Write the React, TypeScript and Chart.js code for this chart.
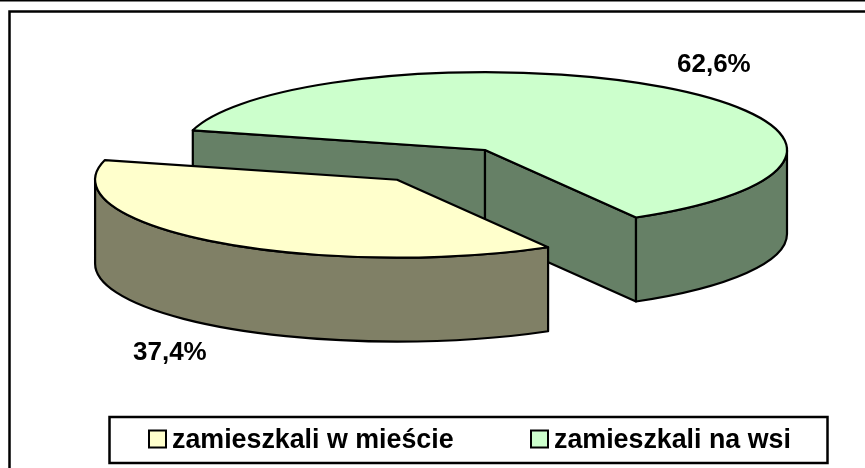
import React, { useEffect, useRef } from "react";
import { Chart, registerables } from "chart.js";

Chart.register(...registerables);

const categories = ["zamieszkali w mieście", "zamieszkali na wsi"];
const shares = [37.4, 62.6];
const shareLabels = ["37,4%", "62,6%"];
const faceColors = ["#FFFFCC", "#CCFFCC"];
const wallColors = ["#808066", "#668066"];
const explode = [145, 0];

const SQUASH = 0.258;
const CENTER_Y = 150;
const DEPTH = 84;
const RADIUS = 302;
const ROTATION = 150;
const FONT = 'bold 26px "Liberation Sans", Arial, sans-serif';
const LEGEND_FONT = 'bold 26.8px "Liberation Sans", Arial, sans-serif';
const labelPos = [
  [133, 360],
  [677, 72],
];
const legendBoxX = [149, 531];

const pie3d = {
  id: "pie3d",
  beforeDatasetsDraw(chart: any) {
    const { ctx } = chart;
    const arcs = chart.getDatasetMeta(0).data;
    const y0 = arcs[0].y;
    const project = () => {
      ctx.translate(0, CENTER_Y);
      ctx.scale(1, SQUASH);
      ctx.translate(0, -y0);
    };
    const sy = (v: number) => CENTER_Y + (v - y0) * SQUASH;
    const geom = (arc: any, i: number) => {
      const mid = (arc.startAngle + arc.endAngle) / 2;
      return {
        startAngle: arc.startAngle,
        endAngle: arc.endAngle,
        outerRadius: arc.outerRadius,
        dx: Math.cos(mid) * explode[i],
        dy: Math.sin(mid) * explode[i],
        cx: arc.x + Math.cos(mid) * explode[i],
        cy: arc.y + Math.sin(mid) * explode[i],
      };
    };

    ctx.save();
    ctx.lineWidth = 2.2;
    ctx.lineJoin = "round";
    ctx.strokeStyle = "#000";

    // walls, back slice first
    [1, 0].forEach((i) => {
      const g = geom(arcs[i], i);
      ctx.fillStyle = wallColors[i];
      const wall = (a: number) => {
        const rx = g.cx + Math.cos(a) * g.outerRadius;
        const ry = g.cy + Math.sin(a) * g.outerRadius;
        ctx.beginPath();
        ctx.moveTo(g.cx, sy(g.cy));
        ctx.lineTo(rx, sy(ry));
        ctx.lineTo(rx, sy(ry) + DEPTH);
        ctx.lineTo(g.cx, sy(g.cy) + DEPTH);
        ctx.closePath();
        ctx.fill();
        ctx.stroke();
      };
      if (-Math.cos(g.startAngle) > 0) wall(g.startAngle);
      if (Math.cos(g.endAngle) > 0) wall(g.endAngle);
      const twoPi = Math.PI * 2;
      const k = Math.floor(g.startAngle / twoPi);
      for (const base of [k * twoPi, (k + 1) * twoPi]) {
        const a0 = Math.max(g.startAngle, base);
        const a1 = Math.min(g.endAngle, base + Math.PI);
        if (a1 <= a0) continue;
        ctx.save();
        project();
        ctx.beginPath();
        ctx.arc(g.cx, g.cy, g.outerRadius, a0, a1);
        ctx.translate(0, DEPTH / SQUASH);
        ctx.arc(g.cx, g.cy, g.outerRadius, a1, a0, true);
        ctx.closePath();
        ctx.restore();
        ctx.fill();
        ctx.stroke();
      }
    });

    // top faces: the library's own arc elements, squashed and moved out
    arcs.forEach((arc: any, i: number) => {
      const g = geom(arc, i);
      ctx.save();
      project();
      ctx.translate(g.dx, g.dy);
      arc.draw(ctx);
      ctx.restore();
      ctx.save();
      project();
      ctx.beginPath();
      ctx.moveTo(g.cx, g.cy);
      ctx.arc(g.cx, g.cy, g.outerRadius, g.startAngle, g.endAngle);
      ctx.closePath();
      ctx.restore();
      ctx.stroke();
    });
    ctx.restore();

    // value labels
    ctx.save();
    ctx.font = FONT;
    ctx.fillStyle = "#000";
    ctx.textBaseline = "alphabetic";
    ctx.textAlign = "left";
    shareLabels.forEach((t, i) => ctx.fillText(t, labelPos[i][0], labelPos[i][1]));
    ctx.restore();

    // frame and legend
    ctx.save();
    ctx.strokeStyle = "#000";
    ctx.lineWidth = 2;
    ctx.beginPath();
    ctx.moveTo(0, 0.5);
    ctx.lineTo(865, 0.5);
    ctx.stroke();
    ctx.lineWidth = 2.5;
    ctx.beginPath();
    ctx.moveTo(9.5, 468);
    ctx.lineTo(9.5, 11.5);
    ctx.lineTo(865, 11.5);
    ctx.stroke();
    ctx.strokeRect(109.5, 417, 718, 46);
    ctx.font = LEGEND_FONT;
    ctx.textBaseline = "alphabetic";
    categories.forEach((name, i) => {
      ctx.fillStyle = faceColors[i];
      ctx.fillRect(legendBoxX[i], 430.5, 17, 17);
      ctx.lineWidth = 2;
      ctx.strokeRect(legendBoxX[i], 430.5, 17, 17);
      ctx.fillStyle = "#000";
      ctx.fillText(name, legendBoxX[i] + 23, 448);
    });
    ctx.restore();
    return false;
  },
};

export default function App() {
  const ref = useRef<HTMLCanvasElement>(null);
  useEffect(() => {
    document.body.style.margin = "0";
    const chart = new Chart(ref.current!, {
      type: "pie",
      data: {
        labels: categories,
        datasets: [{ data: shares, backgroundColor: faceColors, borderWidth: 0 } as any],
      },
      options: {
        responsive: false,
        animation: false,
        rotation: ROTATION,
        radius: RADIUS,
        layout: { padding: { left: 105 } },
        plugins: { legend: { display: false }, tooltip: { enabled: false } },
      },
      plugins: [pie3d],
    });
    return () => chart.destroy();
  }, []);
  return <canvas ref={ref} width={865} height={468} style={{ display: "block" }} />;
}
